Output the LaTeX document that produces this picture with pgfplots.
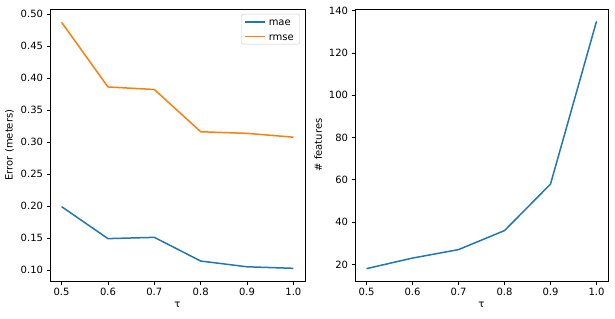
\documentclass[border=0pt]{standalone}
\usepackage{fontspec}
\setmainfont{DejaVu Sans}
\usepackage{pgfplots}
\pgfplotsset{compat=1.18}
\definecolor{C0}{HTML}{1F77B4}
\definecolor{C1}{HTML}{FF7F0E}
\pgfplotsset{
  mpl/.style={
    scale only axis,
    font=\fontsize{10bp}{12bp}\selectfont,
    /pgf/number format/assume math mode=true,
    axis line style={black, line width=0.8bp},
    tick style={black, line width=0.8bp},
    tick align=outside,
    major tick length=3.5bp,
    xtick pos=left, ytick pos=left,
    xmin=0.475, xmax=1.025,
    xtick={0.5,0.6,0.7,0.8,0.9,1.0},
    xticklabel style={/pgf/number format/.cd, fixed, fixed zerofill, precision=1},
    xlabel={τ},
    every axis plot/.append style={line width=1.5bp, line join=round},
    tick label style={font=\fontsize{10bp}{12bp}\selectfont},
    label style={font=\fontsize{10bp}{12bp}\selectfont},
  }
}
\begin{document}
\begin{tikzpicture}
\begin{axis}[mpl,
  at={(50bp,38bp)}, anchor=south west,
  width=255bp, height=272bp,
  ymin=0.0828, ymax=0.5078,
  ytick={0.10,0.15,0.20,0.25,0.30,0.35,0.40,0.45,0.50},
  yticklabel style={/pgf/number format/.cd, fixed, fixed zerofill, precision=2},
  ylabel={Error (meters)},
  legend cell align=left,
  legend style={at={(1,1)}, xshift=-5bp, yshift=-5bp, anchor=north east,
    draw=black!20, rounded corners=2bp, font=\fontsize{10bp}{12bp}\selectfont,
    inner xsep=3bp, inner ysep=3bp, row sep=5bp,
    nodes={inner xsep=3bp, inner ysep=1bp, text height=7.5bp, text depth=0bp}},
  legend image code/.code={\draw[#1, line width=1.5bp] (0bp,0bp) -- (20bp,0bp);},
]
\addplot[C0, no markers] coordinates {(0.5,0.199) (0.6,0.149) (0.7,0.151) (0.8,0.114) (0.9,0.105) (1.0,0.1026)};
\addlegendentry{mae}
\addplot[C1, no markers] coordinates {(0.5,0.487) (0.6,0.386) (0.7,0.382) (0.8,0.316) (0.9,0.3135) (1.0,0.3075)};
\addlegendentry{rmse}
\end{axis}
\begin{axis}[mpl,
  at={(355bp,38bp)}, anchor=south west,
  width=253bp, height=272bp,
  ymin=12.15, ymax=140.85,
  ytick={20,40,60,80,100,120,140},
  ylabel={\# features},
]
\addplot[C0, no markers] coordinates {(0.5,18) (0.6,23) (0.7,27) (0.8,36) (0.9,58) (1.0,135)};
\end{axis}
\pgfresetboundingbox
\path (0,0) rectangle (615bp,319bp);
\end{tikzpicture}
\end{document}
